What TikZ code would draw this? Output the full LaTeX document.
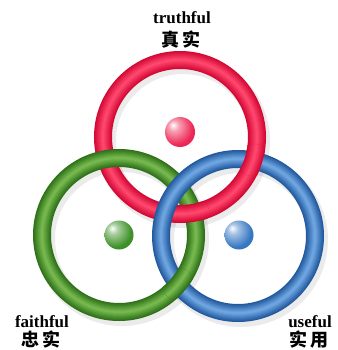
\documentclass[tikz,border=0pt]{standalone}
\usepackage{fontspec}
\setmainfont{Liberation Serif}
\newfontfamily\cjk{Noto Sans CJK SC}
\definecolor{redE}{RGB}{210,8,52}
\definecolor{redC}{RGB}{255,70,108}
\definecolor{greenE}{RGB}{45,112,24}
\definecolor{greenC}{RGB}{118,184,78}
\definecolor{blueE}{RGB}{33,88,158}
\definecolor{blueC}{RGB}{110,165,225}
\definecolor{redB}{RGB}{238,40,85}
\definecolor{greenB}{RGB}{62,145,40}
\definecolor{blueB}{RGB}{55,120,195}
\pgfdeclareradialshading{ballr}{\pgfpoint{-12bp}{12bp}}{color(0bp)=(white); color(9bp)=(redB!45!white); color(28bp)=(redB); color(52bp)=(redB!85!black); color(72bp)=(redB!75!black)}
\pgfdeclareradialshading{ballg}{\pgfpoint{-12bp}{12bp}}{color(0bp)=(white); color(9bp)=(greenB!45!white); color(28bp)=(greenB); color(52bp)=(greenB!85!black); color(72bp)=(greenB!75!black)}
\pgfdeclareradialshading{ballb}{\pgfpoint{-12bp}{12bp}}{color(0bp)=(white); color(9bp)=(blueB!45!white); color(28bp)=(blueB); color(52bp)=(blueB!85!black); color(72bp)=(blueB!75!black)}
\newcommand\ringtube[3]{%
  \foreach \i in {0,...,8}{%
    \pgfmathsetmacro\p{\i*12.5}%
    \draw[line width={(18-2*\i)*1pt}, draw={#3!\p!#2}] (#1) circle[radius=77];
  }%
}
\begin{document}
\begin{tikzpicture}[x=1pt,y=-1pt,
  lbl/.style={font=\bfseries\fontsize{17}{18}\selectfont, inner sep=0pt},
  cjklbl/.style={font=\cjk\bfseries\fontsize{18}{19}\selectfont, inner sep=0pt},
  shadowring/.style={line width=20pt, draw=black, opacity=0.08}]
\useasboundingbox (0,0) rectangle (337,350);
\fill[white] (0,0) rectangle (337,350);
\coordinate (R) at (180,137);
\coordinate (G) at (119,235);
\coordinate (B) at (238,236);
\coordinate (Rs) at (183,141);
\coordinate (Gs) at (122,239);
\coordinate (Bs) at (241,240);
% soft shadows
\draw[shadowring] (Rs) circle[radius=77];
\draw[shadowring] (Gs) circle[radius=77];
\draw[shadowring] (Bs) circle[radius=77];
% rings
\ringtube{R}{redE}{redC}
\ringtube{G}{greenE}{greenC}
\ringtube{B}{blueE}{blueC}
% over-crossings
\begin{scope}
  \clip (193,213) circle[radius=16];
  \ringtube{R}{redE}{redC}
\end{scope}
\begin{scope}
  \clip (253,160) circle[radius=16];
  \ringtube{R}{redE}{redC}
\end{scope}
\begin{scope}
  \clip (178,284) circle[radius=16];
  \ringtube{G}{greenE}{greenC}
\end{scope}
% balls
\shade[shading=ballr] (180,132) circle[radius=15];
\shade[shading=ballg] (119,235) circle[radius=14.5];
\shade[shading=ballb] (239,235) circle[radius=14.5];
% labels
\node[lbl] (t1) at (182,18) {truthful};
\node[cjklbl] (t2) at (181,40) {真\hspace{3pt}实};
\node[lbl] (f1) at (42,322) {faithful};
\node[cjklbl] (f2) at (41,340) {忠\hspace{3pt}实};
\node[lbl] (u1) at (310,322) {useful};
\node[cjklbl] (u2) at (309,340) {实\hspace{3pt}用};
\end{tikzpicture}
\end{document}
